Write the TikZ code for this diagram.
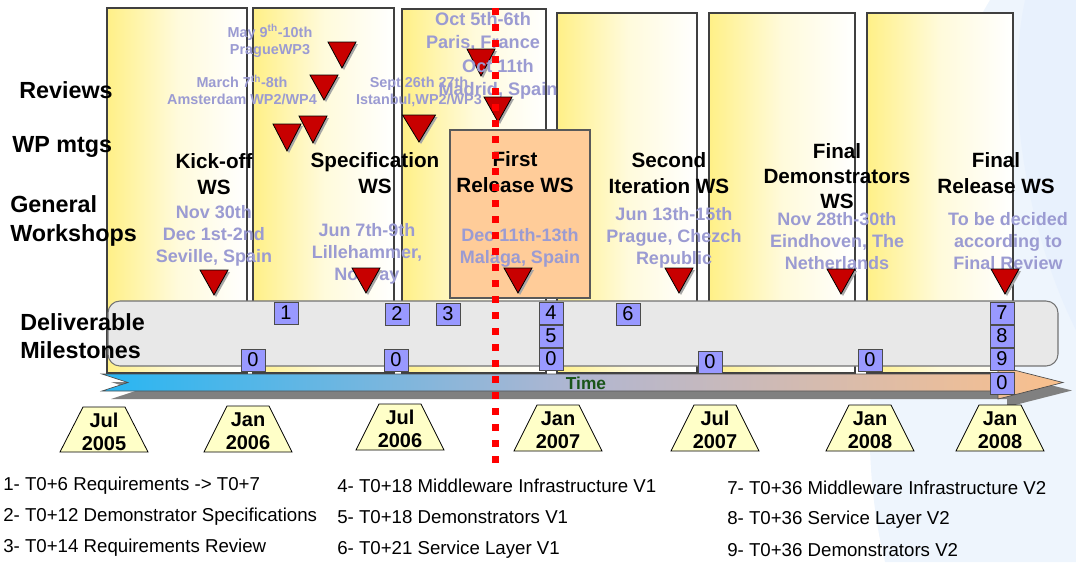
\documentclass[tikz,border=0pt]{standalone}
\usepackage{fontspec}
\setmainfont{Liberation Sans}
\usepackage{tikz}
\usetikzlibrary{positioning}
\definecolor{wsyellow}{RGB}{255,240,135}
\definecolor{wsorange}{RGB}{255,204,153}
\definecolor{datelav}{RGB}{155,155,210}
\definecolor{mtgred}{RGB}{200,0,0}
\definecolor{msblue}{RGB}{153,153,255}
\definecolor{bandgray}{RGB}{232,232,232}
\definecolor{trapyellow}{RGB}{255,255,200}
\definecolor{timeblue}{RGB}{40,182,242}
\definecolor{timemid}{RGB}{178,182,208}
\definecolor{timepeach}{RGB}{250,192,140}
\definecolor{timegreen}{RGB}{25,85,25}
\definecolor{bgblue}{RGB}{226,238,252}

\tikzset{
  wspanel/.style={draw=black!75,line width=0.9pt,left color=wsyellow,right color=white,middle color=wsyellow!30},
  relbox/.style={draw=black!65,line width=0.9pt,fill=wsorange},
  band/.style={draw=black!55,line width=0.8pt,fill=bandgray,rounded corners=9pt},
  timearrow/.style={draw=black!70,line width=0.5pt,left color=timeblue,right color=timepeach,middle color=timemid},
  tri/.style={draw=black,line width=0.6pt,fill=mtgred},
  msbox/.style={draw=black!70,line width=0.6pt,fill=msblue,minimum width=18pt,minimum height=16.5pt,inner sep=0pt,font=\fontsize{15}{15}\selectfont},
  trap/.style={draw=black,line width=0.6pt,fill=trapyellow},
  sidelabel/.style={font=\bfseries\fontsize{17.5}{21.5}\selectfont,align=left,inner sep=0pt},
  wstitle/.style={font=\bfseries\fontsize{15.5}{19}\selectfont,align=center,inner sep=0pt},
  wsdate/.style={text=datelav,font=\bfseries\fontsize{13.5}{16.5}\selectfont,align=center,inner sep=0pt},
  revdate/.style={text=datelav,font=\bfseries\fontsize{10.8}{12.8}\selectfont,align=center,inner sep=0pt},
  datetext/.style={font=\bfseries\fontsize{15}{17.3}\selectfont,align=center,inner sep=0pt},
  legend/.style={font=\fontsize{14}{14}\selectfont,anchor=base west,inner sep=0pt},
  nowline/.style={draw=red,line width=5.25pt,dash pattern=on 5.25pt off 6.75pt}
}
% red meeting marker: centre x, top y, width, height
\newcommand{\mtgtri}[4]{%
  \fill[black!35] ({#1-#3/2+2},{#2+2}) -- ({#1+#3/2+2},{#2+2}) -- ({#1+2},{#2+#4+2}) -- cycle;
  \draw[tri] ({#1-#3/2},#2) -- ({#1+#3/2},#2) -- (#1,{#2+#4}) -- cycle;}

\begin{document}
\begin{tikzpicture}[x=0.75pt,y=-0.75pt]
  \useasboundingbox (0,0) rectangle (1076,562);
  \fill[bgblue!60] (990,0) .. controls (900,150) and (840,380) .. (885,562) -- (1076,562) -- (1076,0) -- cycle;
  \fill[bgblue!80] (1025,0) .. controls (1000,120) and (1040,260) .. (1076,330) -- (1076,0) -- cycle;

  % workshop columns
  \draw[wspanel] (107,8) rectangle (247,373);
  \draw[wspanel] (253,8) rectangle (394,373);
  \draw[wspanel] (402,9) rectangle (546,373);
  \draw[wspanel] (557,13) rectangle (697,373);
  \draw[wspanel] (709,13) rectangle (855,373);
  \draw[wspanel] (867,13) rectangle (1013,373);
  \draw[relbox] (450,130) rectangle (590,298);

  % reviews and WP meetings
  \node[revdate] (rprague) at (270,41) {May 9\textsuperscript{th}-10th\\PragueWP3};
  \node[revdate] (ramst) at (242,90) {March 7\textsuperscript{th}-8th\\Amsterdam WP2/WP4};
  \node[revdate] (rist) at (419,92) {Sept 26th 27th\\Istanbul,WP2/WP3};
  \node[wsdate,font=\bfseries\fontsize{13.6}{17}\selectfont] (rparis) at (483,32) {Oct 5th-6th\\Paris, France};
  \mtgtri{342}{42}{28}{26}
  \mtgtri{324}{75}{28}{25}
  \mtgtri{313}{116}{28}{27}
  \mtgtri{287}{124}{28}{27}
  \mtgtri{419}{115}{33}{27}
  \mtgtri{481}{49}{28}{27}
  \node[wsdate,font=\bfseries\fontsize{13.6}{17}\selectfont] (rmadrid) at (498,79) {Oct 11th\\Madrid, Spain};
  \mtgtri{498}{97}{28}{25}

  % general workshops
  \node[wstitle] (wskick) at (214,174) {Kick-off\\WS};
  \node[wstitle] (wsspec) at (375,173) {Specification\\WS};
  \node[wstitle] (wsfirst) at (515,172) {First\\Release WS};
  \node[wstitle] (wssecond) at (669,173) {Second\\Iteration WS};
  \node[wstitle] (wsdemo) at (837,176) {Final\\Demonstrators\\WS};
  \node[wstitle] (wsfinal) at (996,173) {Final\\Release WS};
  \node[wsdate] (dkick) at (214,236) {Nov 30th\\Dec 1st-2nd\\Seville, Spain};
  \node[wsdate] (dspec) at (367,254) {Jun 7th-9th\\Lillehammer,\\Norway};
  \node[wsdate] (dfirst) at (520,248) {Dec 11th-13th\\Malaga, Spain};
  \node[wsdate] (dsecond) at (674,238) {Jun 13th-15th\\Prague, Chezch\\Republic};
  \node[wsdate] (ddemo) at (837,241) {Nov 28th-30th\\Eindhoven, The\\Netherlands};
  \node[wsdate] (dfinal) at (1008,241) {To be decided\\according to\\Final Review};
  \mtgtri{214}{270}{28}{25}
  \mtgtri{366}{268}{28}{25}
  \mtgtri{518}{268}{28}{25}
  \mtgtri{679}{268}{28}{25}
  \mtgtri{841}{269}{28}{25}
  \mtgtri{1005}{269}{28}{25}

  % deliverables band and time axis
  \path[band] (108,301) rectangle (1058,366);
  \fill[black!50,shift={(9,8)}] (102,374) -- (128,382.5) -- (102,391) -- (998,391) -- (998,399) -- (1063,382.5) -- (998,366) -- (998,374) -- cycle;
  \path[timearrow] (102,374) -- (128,382.5) -- (102,391) -- (998,391) -- (998,399) -- (1063,382.5) -- (998,366) -- (998,374) -- cycle;
  \node[text=timegreen,font=\bfseries\fontsize{13}{13}\selectfont,inner sep=0pt] (time) at (586,383) {Time};

  \node[msbox] (ms1) at (286,313) {1};
  \node[msbox] (ms2) at (397,314) {2};
  \node[msbox] (ms3) at (448,314) {3};
  \node[msbox] (ms4) at (551,313) {4};
  \node[msbox] (ms5) at (551,336) {5};
  \node[msbox] (ms6) at (628,314) {6};
  \node[msbox] (ms7) at (1002,313) {7};
  \node[msbox] (ms8) at (1002,336) {8};
  \node[msbox] (ms9) at (1002,359) {9};
  \node[msbox] (mza) at (253,360) {0};
  \node[msbox] (mzb) at (396,360) {0};
  \node[msbox] (mzc) at (551,359) {0};
  \node[msbox] (mzd) at (710,362) {0};
  \node[msbox] (mze) at (870,360) {0};
  \node[msbox] (mzf) at (1002,383) {0};

  % dates under the axis
  \draw[trap,shift={(104,0)}] (-44,452) -- (-21,407) -- (21,407) -- (44,452) -- cycle;
  \draw[trap,shift={(248,0)}] (-44,452) -- (-21,406) -- (21,406) -- (44,452) -- cycle;
  \draw[trap,shift={(400,0)}] (-44,450) -- (-21,404) -- (21,404) -- (44,450) -- cycle;
  \draw[trap,shift={(558,0)}] (-44,451) -- (-21,405) -- (21,405) -- (44,451) -- cycle;
  \draw[trap,shift={(715,0)}] (-44,451) -- (-21,405) -- (21,405) -- (44,451) -- cycle;
  \draw[trap,shift={(870,0)}] (-44,451) -- (-21,405) -- (21,405) -- (44,451) -- cycle;
  \draw[trap,shift={(1000,0)}] (-44,451) -- (-21,405) -- (21,405) -- (44,451) -- cycle;
  \node[datetext] (tjul05) at (104,432) {Jul\\2005};
  \node[datetext] (tjan06) at (248,431) {Jan\\2006};
  \node[datetext] (tjul06) at (400,429) {Jul\\2006};
  \node[datetext] (tjan07) at (558,430) {Jan\\2007};
  \node[datetext] (tjul07) at (715,430) {Jul\\2007};
  \node[datetext] (tjan08) at (870,430) {Jan\\2008};
  \node[datetext] (tjan08b) at (1000,430) {Jan\\2008};

  % row labels
  \node[sidelabel,anchor=base west] (lrev) at (19,98) {Reviews};
  \node[sidelabel,anchor=base west] (lwp) at (12,152) {WP mtgs};
  \node[sidelabel,anchor=west] (lgen) at (10,221) {General\\Workshops};
  \node[sidelabel,anchor=west] (ldel) at (20,336) {Deliverable\\Milestones};

  % legend
  \node[legend] (lg1) at (3,490) {1- T0+6 Requirements -> T0+7};
  \node[legend] (lg2) at (3,521) {2- T0+12 Demonstrator Specifications};
  \node[legend] (lg3) at (3,552) {3- T0+14 Requirements Review};
  \node[legend] (lg4) at (337,492) {4- T0+18 Middleware Infrastructure V1};
  \node[legend] (lg5) at (337,523) {5- T0+18 Demonstrators V1};
  \node[legend] (lg6) at (337,554) {6- T0+21 Service Layer V1};
  \node[legend] (lg7) at (727,494) {7- T0+36 Middleware Infrastructure V2};
  \node[legend] (lg8) at (727,524) {8- T0+36 Service Layer V2};
  \node[legend] (lg9) at (727,556) {9- T0+36 Demonstrators V2};

  % today
  \coordinate (nowtop) at (495,8);
  \coordinate (nowbot) at (495,466);
  \draw[nowline] (nowtop) -- (nowbot);
\end{tikzpicture}
\end{document}
